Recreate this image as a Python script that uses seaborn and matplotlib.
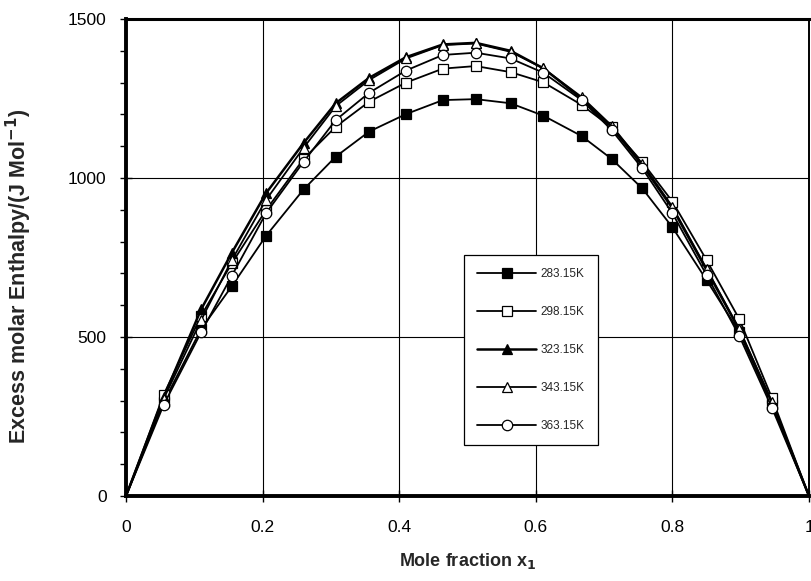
import matplotlib
matplotlib.use("Agg")
import matplotlib.pyplot as plt
import seaborn as sns
import numpy as np
import pandas as pd
from matplotlib.ticker import MultipleLocator

# ---- data ----
x1 = [0.0, 0.055, 0.11, 0.155, 0.205, 0.26, 0.307, 0.356, 0.41, 0.464, 0.512,
      0.563, 0.611, 0.667, 0.711, 0.756, 0.80, 0.85, 0.898, 0.946, 1.0]

h_283 = [0, 295, 525, 660, 818, 964, 1067, 1146, 1201, 1245, 1248,
         1235, 1196, 1132, 1060, 967, 845, 679, 515, 285, 0]
h_298 = [0, 318, 567, 732, 899, 1060, 1161, 1240, 1300, 1344, 1352,
         1333, 1301, 1230, 1159, 1050, 926, 742, 556, 307, 0]
h_323 = [0, 310, 587, 765, 952, 1110, 1235, 1315, 1380, 1420, 1425,
         1400, 1345, 1250, 1160, 1040, 905, 711, 522, 292, 0]
h_343 = [0, 305, 553, 742, 931, 1095, 1226, 1308, 1376, 1418, 1423,
         1397, 1345, 1255, 1165, 1045, 910, 715, 525, 295, 0]
h_363 = [0, 286, 515, 693, 889, 1051, 1182, 1268, 1338, 1387, 1394,
         1376, 1331, 1245, 1151, 1030, 889, 695, 503, 276, 0]

labels = ["283.15K", "298.15K", "323.15K", "343.15K", "363.15K"]
series = [h_283, h_298, h_323, h_343, h_363]

x_ticks = [0, 0.2, 0.4, 0.6, 0.8, 1]
x_ticklabels = ["0", "0.2", "0.4", "0.6", "0.8", "1"]
y_ticks = [0, 500, 1000, 1500]

# ---- styles ----
markers = ["s", "s", "^", "^", "o"]
facecols = ["black", "white", "black", "white", "white"]
msizes = [7, 7, 7.5, 7.5, 7.5]
lwidths = [1.3, 1.3, 1.8, 1.3, 1.3]

sns.set_theme(style="white")
plt.rcParams["font.family"] = ["Liberation Sans", "DejaVu Sans"]

fig = plt.figure(figsize=(8.11, 5.81), dpi=100)
ax = fig.add_axes([126 / 811, 1 - 496 / 581, (809 - 126) / 811, (496 - 19) / 581])

for lab, ys, m, fc, ms, lw in zip(labels, series, markers, facecols, msizes, lwidths):
    df = pd.DataFrame({"x": x1, "y": ys})
    sns.lineplot(data=df, x="x", y="y", ax=ax, color="black", linewidth=lw,
                 marker=m, markersize=ms, markerfacecolor=fc,
                 markeredgecolor="black", markeredgewidth=0.9,
                 markevery=slice(1, len(x1) - 1), label=lab, sort=False)

ax.set_xlim(0, 1)
ax.set_ylim(0, 1500)
ax.set_xticks(x_ticks)
ax.set_xticklabels(x_ticklabels)
ax.set_yticks(y_ticks)
ax.yaxis.set_minor_locator(MultipleLocator(100))

ax.grid(True, which="major", color="black", linewidth=0.8)
ax.set_axisbelow(True)

for side, lw in [("left", 2.8), ("bottom", 2.8), ("top", 2.2), ("right", 1.4)]:
    ax.spines[side].set_visible(True)
    ax.spines[side].set_color("black")
    ax.spines[side].set_linewidth(lw)

ax.tick_params(axis="both", which="major", direction="inout", length=8, width=1,
               colors="black", labelsize=12.5, left=True, bottom=True)
ax.tick_params(axis="y", which="minor", direction="out", length=4, width=1,
               colors="black", left=True)
ax.tick_params(axis="x", pad=13)
ax.tick_params(axis="y", pad=10)

ax.set_xlabel("Mole fraction x$_\\mathbf{1}$", fontsize=13, fontweight="bold",
              labelpad=12)
ax.set_ylabel("Excess molar Enthalpy/(J Mol$^{\\mathbf{-1}}$)", fontsize=15.5,
              fontweight="bold")
ax.yaxis.set_label_coords(-0.134, 0.46)

leg = ax.legend(loc="lower left", bbox_to_anchor=(0.495, 0.107), frameon=True,
                fancybox=False, edgecolor="black", fontsize=8.5,
                handlelength=5.0, labelspacing=2.2, borderpad=1.1,
                handletextpad=0.4, borderaxespad=0.0)
leg.get_frame().set_linewidth(0.9)
leg.get_frame().set_facecolor("white")
leg.get_frame().set_alpha(1)

fig.savefig("out.png", dpi=100)
